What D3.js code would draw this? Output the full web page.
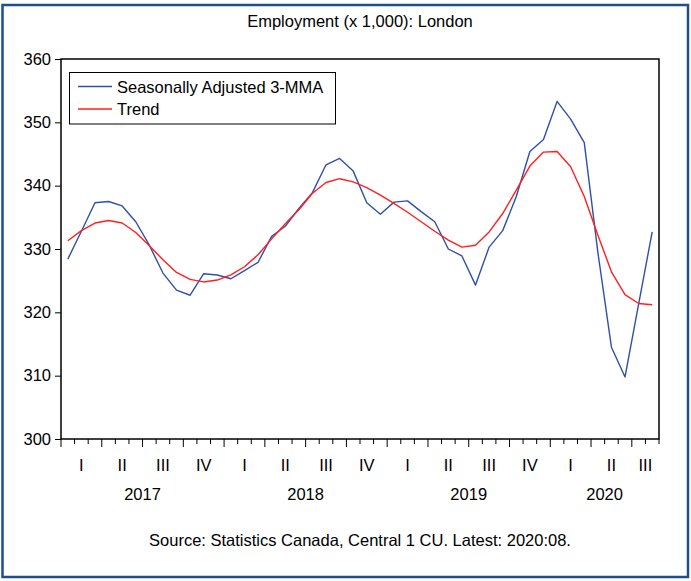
<!DOCTYPE html>
<html>
<head>
<meta charset="utf-8">
<script src="https://cdn.jsdelivr.net/npm/d3@7/dist/d3.min.js"></script>
<style>
  html, body { margin: 0; padding: 0; background: #fff; }
  svg { display: block; }
  text { font-family: "Liberation Sans", Arial, Helvetica, sans-serif; fill: #000; }
</style>
</head>
<body>
<svg id="chart" width="691" height="581"></svg>
<script>
// Monthly periods, January 2017 through August 2020
const months = [
  "2017:01","2017:02","2017:03","2017:04","2017:05","2017:06","2017:07","2017:08","2017:09","2017:10","2017:11","2017:12",
  "2018:01","2018:02","2018:03","2018:04","2018:05","2018:06","2018:07","2018:08","2018:09","2018:10","2018:11","2018:12",
  "2019:01","2019:02","2019:03","2019:04","2019:05","2019:06","2019:07","2019:08","2019:09","2019:10","2019:11","2019:12",
  "2020:01","2020:02","2020:03","2020:04","2020:05","2020:06","2020:07","2020:08"
];

// Employment, thousands
const seasonallyAdjusted = [
  328.4, 332.8, 337.3, 337.5, 336.8, 334.3, 330.6, 326.2, 323.5, 322.7, 326.1, 325.9,
  325.3, 326.6, 327.9, 332.0, 333.6, 336.4, 338.9, 343.3, 344.3, 342.3, 337.3, 335.5,
  337.4, 337.6, 335.9, 334.3, 330.0, 328.9, 324.3, 330.3, 332.9, 338.3, 345.4, 347.3,
  353.3, 350.5, 346.8, 329.5, 314.5, 309.8, 321.3, 332.7
];
const trend = [
  331.3, 332.9, 334.1, 334.5, 334.1, 332.6, 330.5, 328.3, 326.3, 325.2, 324.8, 325.1,
  325.9, 327.2, 329.1, 331.6, 334.0, 336.2, 338.8, 340.5, 341.1, 340.6, 339.7, 338.5,
  337.2, 335.8, 334.3, 332.8, 331.4, 330.3, 330.6, 332.7, 335.6, 339.3, 343.1, 345.3,
  345.4, 343.0, 338.3, 332.2, 326.4, 322.8, 321.4, 321.2
];

const quarterLabels = ["I", "II", "III", "IV"];
const years = ["2017", "2018", "2019", "2020"];
const yTicks = [300, 310, 320, 330, 340, 350, 360];
const seriesNames = ["Seasonally Adjusted 3-MMA", "Trend"];
const seriesColors = ["#3050a8", "#ff1f1f"];

const titleText = "Employment (x 1,000): London";
const sourceText = "Source: Statistics Canada, Central 1 CU. Latest: 2020:08.";

const svg = d3.select("#chart");
const W = 691, H = 581;
const plot = { left: 61, right: 659, top: 59, bottom: 439 };
const fontSize = 16.5;

// Outer frame
svg.append("rect")
  .attr("x", 2.5).attr("y", 5).attr("width", W - 5.5).attr("height", H - 9)
  .attr("fill", "#fff").attr("stroke", "#1d4f8c").attr("stroke-width", 2.5);

const x = d3.scaleBand().domain(months).range([plot.left, plot.right]).padding(0);
const y = d3.scaleLinear().domain([300, 360]).range([plot.bottom, plot.top]);
const cx = m => x(m) + x.bandwidth() / 2;

// Title
svg.append("text")
  .attr("x", (plot.left + plot.right) / 2).attr("y", 27)
  .attr("text-anchor", "middle").attr("font-size", fontSize)
  .text(titleText);

// Y axis
const yAxis = d3.axisLeft(y).tickValues(yTicks).tickSize(6).tickPadding(4).tickFormat(d3.format("d"));
const gy = svg.append("g").attr("transform", `translate(${plot.left},0)`).call(yAxis);
gy.select(".domain").remove();
gy.selectAll(".tick line").attr("stroke", "#000").attr("stroke-width", 1);
gy.selectAll(".tick text").attr("font-size", fontSize).attr("font-family", "Liberation Sans, Arial, sans-serif").attr("fill", "#000");

// X axis: month boundary ticks, longer at quarter starts
const boundaries = months.map((m, i) => ({ pos: x(m), major: i % 3 === 0 }));
boundaries.push({ pos: plot.right, major: false });
const gx = svg.append("g");
gx.selectAll("line.tick")
  .data(boundaries)
  .join("line")
  .attr("x1", d => d.pos).attr("x2", d => d.pos)
  .attr("y1", plot.bottom).attr("y2", d => plot.bottom + (d.major ? 8 : 5))
  .attr("stroke", "#000").attr("stroke-width", 1);

// Quarter labels centred on each quarter's months
const quarters = d3.groups(months.map((m, i) => ({ m, i })), d => Math.floor(d.i / 3));
gx.selectAll("text.q")
  .data(quarters)
  .join("text")
  .attr("class", "q")
  .attr("x", ([, ms]) => (x(ms[0].m) + x(ms[ms.length - 1].m) + x.bandwidth()) / 2)
  .attr("y", 471)
  .attr("text-anchor", "middle").attr("font-size", fontSize)
  .text(([q]) => quarterLabels[q % 4]);

// Year labels centred on each year's months
const yearGroups = d3.groups(months, m => m.slice(0, 4));
gx.selectAll("text.yr")
  .data(yearGroups)
  .join("text")
  .attr("class", "yr")
  .attr("x", ([, ms]) => (x(ms[0]) + x(ms[ms.length - 1]) + x.bandwidth()) / 2)
  .attr("y", 500)
  .attr("text-anchor", "middle").attr("font-size", fontSize)
  .text(([yr]) => years[years.indexOf(yr)]);

// Series lines
const line = d3.line().x((d, i) => cx(months[i])).y(d => y(d));
[seasonallyAdjusted, trend].forEach((vals, k) => {
  svg.append("path")
    .datum(vals)
    .attr("d", line)
    .attr("fill", "none")
    .attr("stroke", seriesColors[k])
    .attr("stroke-width", 1.4)
    .attr("stroke-linejoin", "round");
});

// Plot frame
svg.append("rect")
  .attr("x", plot.left).attr("y", plot.top)
  .attr("width", plot.right - plot.left).attr("height", plot.bottom - plot.top)
  .attr("fill", "none").attr("stroke", "#000").attr("stroke-width", 1.5);

// Legend
const lg = svg.append("g");
lg.append("rect")
  .attr("x", 69.5).attr("y", 72.5).attr("width", 266).attr("height", 51.5)
  .attr("fill", "#fff").attr("stroke", "#000").attr("stroke-width", 1);
seriesNames.forEach((name, k) => {
  const ly = 86.5 + k * 22.5;
  lg.append("line")
    .attr("x1", 78).attr("x2", 112).attr("y1", ly).attr("y2", ly)
    .attr("stroke", seriesColors[k]).attr("stroke-width", 1.4);
  lg.append("text")
    .attr("x", 117).attr("y", ly + 6)
    .attr("font-size", fontSize)
    .text(name);
});

// Source note
svg.append("text")
  .attr("x", (plot.left + plot.right) / 2).attr("y", 546)
  .attr("text-anchor", "middle").attr("font-size", fontSize)
  .text(sourceText);
</script>
</body>
</html>
